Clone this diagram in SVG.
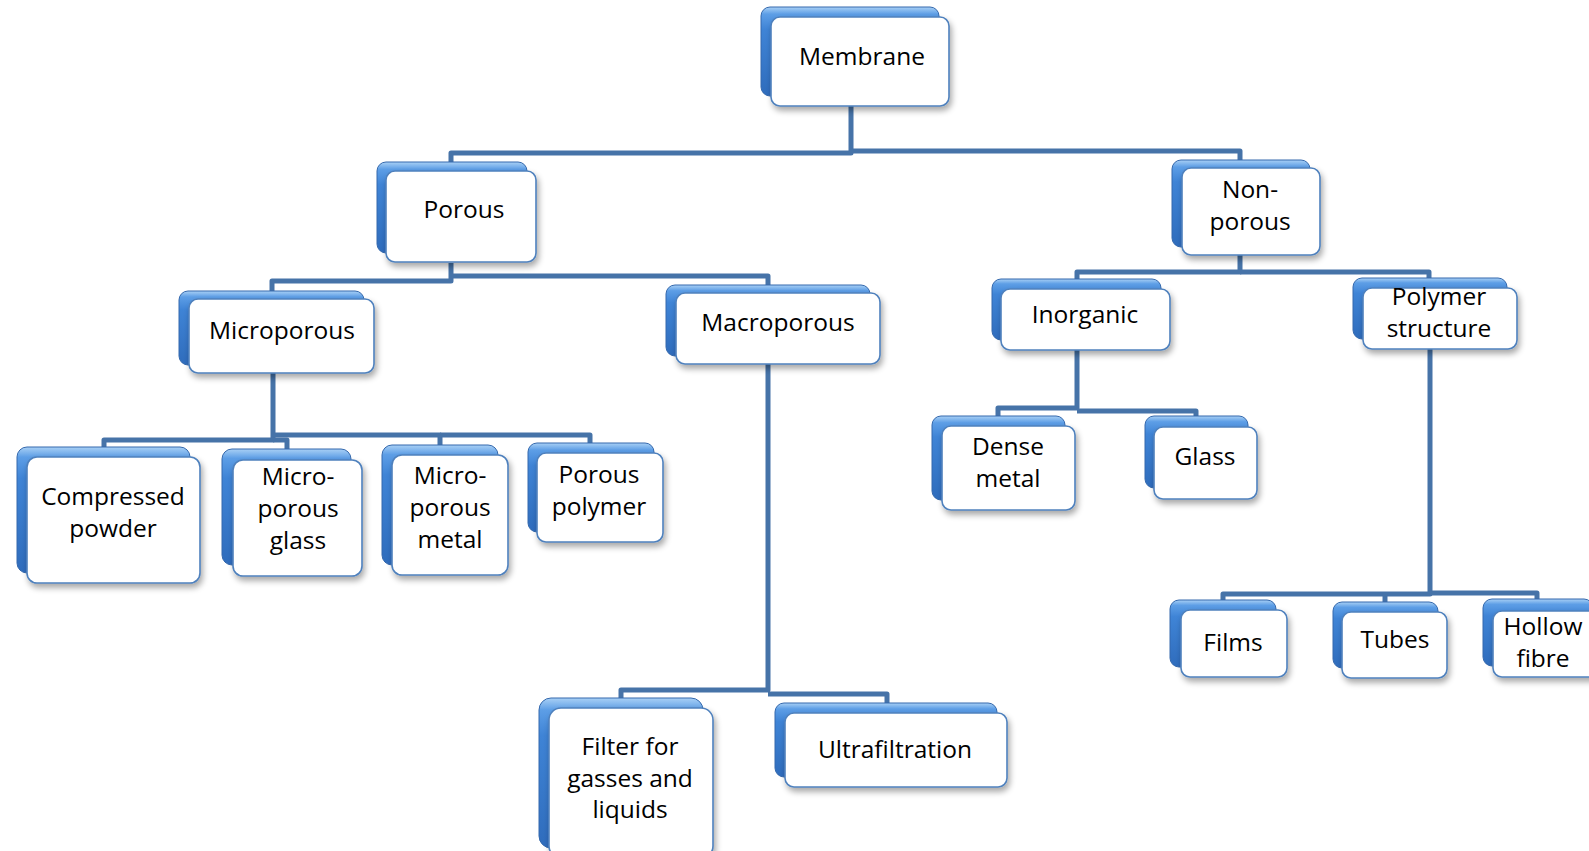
<svg xmlns="http://www.w3.org/2000/svg" width="1589" height="851" viewBox="0 0 1589 851">
  <defs>
    <linearGradient id="backFill" x1="0" y1="0" x2="0" y2="1">
      <stop offset="0" stop-color="#a9d0f5"/>
      <stop offset="0.08" stop-color="#5d9ee6"/>
      <stop offset="0.25" stop-color="#3f84d6"/>
      <stop offset="1" stop-color="#2f6cbc"/>
    </linearGradient>
    <filter id="cardShadow" x="-20%" y="-20%" width="140%" height="150%">
      <feGaussianBlur in="SourceAlpha" stdDeviation="3"/>
      <feOffset dx="2" dy="4" result="blur"/>
      <feComponentTransfer><feFuncA type="linear" slope="0.35"/></feComponentTransfer>
      <feMerge><feMergeNode/><feMergeNode in="SourceGraphic"/></feMerge>
    </filter>
  </defs>
  <style>
    .back { fill: url(#backFill); stroke: #3569ad; stroke-width: 1; }
    .front { fill: #ffffff; stroke: #4f81bd; stroke-width: 1.6; filter: url(#cardShadow); }
    .lbl { font-family: "Open Sans", "Liberation Sans", sans-serif; font-size: 24.5px; fill: #000; text-anchor: middle; }
    .wire { fill: none; stroke: #4673a8; stroke-width: 5; stroke-linejoin: round; }
  </style>
  <rect width="1589" height="851" fill="#ffffff"/>

  <g id="connectors">
    <path class="wire" d="M851,106 V153 H451 V163"/>
    <path class="wire" d="M851,151 H1240 V161"/>
    <path class="wire" d="M451,263 V281 H272 V292"/>
    <path class="wire" d="M451,276 H768 V286"/>
    <path class="wire" d="M273,373 V440 H104 V448"/>
    <path class="wire" d="M273,440 H287 V450"/>
    <path class="wire" d="M273,435 H440 V446"/>
    <path class="wire" d="M440,435 H590 V444"/>
    <path class="wire" d="M768,364 V690 H621 V699"/>
    <path class="wire" d="M768,694 H887 V704"/>
    <path class="wire" d="M1240,255 V272 H1077 V280"/>
    <path class="wire" d="M1240,272 H1429 V279"/>
    <path class="wire" d="M1077,350 V408 H998 V417"/>
    <path class="wire" d="M1077,411 H1196 V417"/>
    <path class="wire" d="M1430,349 V594 H1223 V601"/>
    <path class="wire" d="M1385,594 V603"/>
    <path class="wire" d="M1430,593 H1537 V600"/>
  </g>

  <g id="membrane">
    <rect class="back" x="761" y="7" width="178" height="89" rx="9"/>
    <rect class="front" x="771" y="17" width="178" height="89" rx="9"/>
    <text class="lbl" x="862" y="65">Membrane</text>
  </g>
  <g id="porous">
    <rect class="back" x="377" y="162" width="150" height="91" rx="9"/>
    <rect class="front" x="386" y="171" width="150" height="91" rx="9"/>
    <text class="lbl" x="464" y="218">Porous</text>
  </g>
  <g id="non-porous">
    <rect class="back" x="1172" y="160" width="138" height="87" rx="9"/>
    <rect class="front" x="1182" y="168" width="138" height="87" rx="9"/>
    <text class="lbl" x="1250" y="198">Non-</text>
    <text class="lbl" x="1250" y="230">porous</text>
  </g>
  <g id="microporous">
    <rect class="back" x="179" y="291" width="185" height="74" rx="9"/>
    <rect class="front" x="189" y="299" width="185" height="74" rx="9"/>
    <text class="lbl" x="282" y="339">Microporous</text>
  </g>
  <g id="macroporous">
    <rect class="back" x="666" y="285" width="204" height="71" rx="9"/>
    <rect class="front" x="676" y="293" width="204" height="71" rx="9"/>
    <text class="lbl" x="778" y="331">Macroporous</text>
  </g>
  <g id="inorganic">
    <rect class="back" x="992" y="279" width="169" height="61" rx="9"/>
    <rect class="front" x="1001" y="289" width="169" height="61" rx="9"/>
    <text class="lbl" x="1085" y="323">Inorganic</text>
  </g>
  <g id="polymer-structure">
    <rect class="back" x="1353" y="278" width="154" height="61" rx="9"/>
    <rect class="front" x="1363" y="288" width="154" height="61" rx="9"/>
    <text class="lbl" x="1439" y="305">Polymer</text>
    <text class="lbl" x="1439" y="337">structure</text>
  </g>
  <g id="compressed-powder">
    <rect class="back" x="17" y="447" width="173" height="126" rx="10"/>
    <rect class="front" x="27" y="457" width="173" height="126" rx="10"/>
    <text class="lbl" x="113" y="505">Compressed</text>
    <text class="lbl" x="113" y="537">powder</text>
  </g>
  <g id="microporous-glass">
    <rect class="back" x="222" y="449" width="129" height="116" rx="10"/>
    <rect class="front" x="233" y="460" width="129" height="116" rx="10"/>
    <text class="lbl" x="298" y="485">Micro-</text>
    <text class="lbl" x="298" y="517">porous</text>
    <text class="lbl" x="298" y="549">glass</text>
  </g>
  <g id="microporous-metal">
    <rect class="back" x="382" y="445" width="116" height="120" rx="10"/>
    <rect class="front" x="392" y="455" width="116" height="120" rx="10"/>
    <text class="lbl" x="450" y="484">Micro-</text>
    <text class="lbl" x="450" y="516">porous</text>
    <text class="lbl" x="450" y="548">metal</text>
  </g>
  <g id="porous-polymer">
    <rect class="back" x="528" y="443" width="126" height="89" rx="9"/>
    <rect class="front" x="537" y="453" width="126" height="89" rx="9"/>
    <text class="lbl" x="599" y="483">Porous</text>
    <text class="lbl" x="599" y="515">polymer</text>
  </g>
  <g id="dense-metal">
    <rect class="back" x="932" y="416" width="133" height="84" rx="9"/>
    <rect class="front" x="942" y="426" width="133" height="84" rx="9"/>
    <text class="lbl" x="1008" y="455">Dense</text>
    <text class="lbl" x="1008" y="487">metal</text>
  </g>
  <g id="glass">
    <rect class="back" x="1145" y="416" width="103" height="72" rx="9"/>
    <rect class="front" x="1154" y="427" width="103" height="72" rx="9"/>
    <text class="lbl" x="1205" y="465">Glass</text>
  </g>
  <g id="films">
    <rect class="back" x="1170" y="600" width="106" height="67" rx="9"/>
    <rect class="front" x="1181" y="610" width="106" height="67" rx="9"/>
    <text class="lbl" x="1233" y="651">Films</text>
  </g>
  <g id="tubes">
    <rect class="back" x="1333" y="602" width="105" height="66" rx="9"/>
    <rect class="front" x="1342" y="612" width="105" height="66" rx="9"/>
    <text class="lbl" x="1395" y="648">Tubes</text>
  </g>
  <g id="hollow-fibre">
    <rect class="back" x="1483" y="599" width="110" height="67" rx="9"/>
    <rect class="front" x="1493" y="611" width="110" height="66" rx="9"/>
    <text class="lbl" x="1543" y="635">Hollow</text>
    <text class="lbl" x="1543" y="667">fibre</text>
  </g>
  <g id="filter">
    <rect class="back" x="539" y="698" width="164" height="150" rx="12"/>
    <rect class="front" x="549" y="708" width="164" height="150" rx="12"/>
    <text class="lbl" x="630" y="755">Filter for</text>
    <text class="lbl" x="630" y="787">gasses and</text>
    <text class="lbl" x="630" y="818">liquids</text>
  </g>
  <g id="ultrafiltration">
    <rect class="back" x="775" y="703" width="222" height="74" rx="9"/>
    <rect class="front" x="785" y="713" width="222" height="74" rx="9"/>
    <text class="lbl" x="895" y="758">Ultrafiltration</text>
  </g>
</svg>
